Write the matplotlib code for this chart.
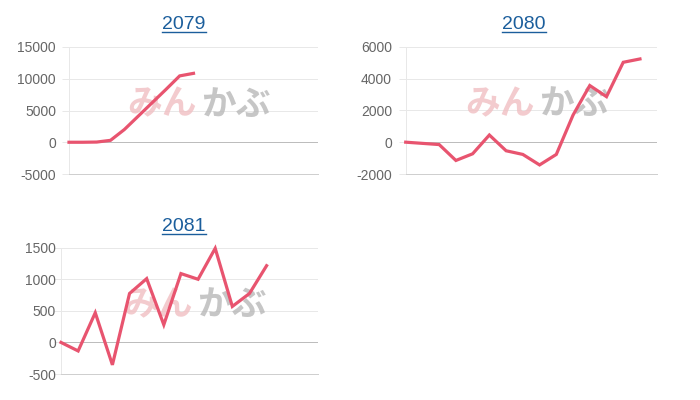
import matplotlib
matplotlib.use("Agg")
import matplotlib.pyplot as plt
from matplotlib.lines import Line2D

titles = ["2079", "2080", "2081"]
vals_2079 = [0, 0, 30, 300, 2000, 4100, 6200, 8300, 10450, 10850]
vals_2080 = [0, -75, -150, -1150, -730, 450, -540, -770, -1430, -770, 1700, 3560, 2860, 5020, 5230]
vals_2081 = [0, -135, 470, -355, 775, 1010, 280, 1090, 1000, 1490, 570, 775, 1215]
series = [vals_2079, vals_2080, vals_2081]
yticks = [[-5000, 0, 5000, 10000, 15000],
          [-2000, 0, 2000, 4000, 6000],
          [-500, 0, 500, 1000, 1500]]
nslots = [19, 16, 16]

W, H = 700, 400
fig = plt.figure(figsize=(7, 4), dpi=100)
plt.rcParams['font.family'] = ['Liberation Sans', 'DejaVu Sans']

# axes boxes in pixels: left, top, right, bottom
boxes = [(69, 47, 318, 174), (405.7, 46.7, 656.7, 174), (61, 247.7, 318, 374)]
title_pos = [(184, 24.5), (524, 24.5), (184, 226.5)]
label_right = [56, 392, 56]

line_color = '#e8546f'
grid_c = '#e8e8e8'
zero_c = '#bdbdbd'
px = 0.72

for i in range(3):
    l, t, r, b = boxes[i]
    ax = fig.add_axes([l / W, 1 - b / H, (r - l) / W, (b - t) / H])
    yt = yticks[i]
    ax.set_ylim(yt[0], yt[-1])
    ax.set_xlim(0, nslots[i] - 1)
    ax.set_yticks(yt)
    ax.set_yticklabels([str(v) for v in yt])
    ax.set_xticks([])
    for s in ['top', 'right']:
        ax.spines[s].set_visible(False)
    ax.spines['left'].set_color(grid_c)
    ax.spines['bottom'].set_color('#cfcfcf')
    ax.spines['left'].set_linewidth(1 * px)
    ax.spines['bottom'].set_linewidth(1 * px)
    ticklen = 7
    pad = (l - label_right[i]) - ticklen
    ax.tick_params(axis='y', length=ticklen * px, width=1 * px, color=grid_c,
                   pad=pad * px, labelsize=10, labelcolor='#666666')
    for v in yt[1:]:
        ax.axhline(v, color=zero_c if v == 0 else grid_c, lw=1 * px, zorder=1)
    for tk, v in zip(ax.yaxis.get_major_ticks(), yt):
        if v == 0:
            tk.tick1line.set_color(zero_c)
        if v == yt[0]:
            tk.tick1line.set_color('#cfcfcf')
    # watermark
    ax.text(0.514, 0.55, 'みん', transform=ax.transAxes, ha='right', va='center',
            fontsize=25, fontweight='bold', color='#f0bfc2', alpha=0.8,
            family=['Noto Sans CJK JP'], zorder=2)
    ax.text(0.53, 0.55, 'かぶ', transform=ax.transAxes, ha='left', va='center',
            fontsize=25, fontweight='bold', color='#b8b8b8', alpha=0.8,
            family=['Noto Sans CJK JP'], zorder=2)
    y = series[i]
    ax.plot(range(len(y)), y, color=line_color, lw=2.3, solid_joinstyle='miter',
            zorder=3, clip_on=False)

    tx, ty = title_pos[i]
    txt = fig.text(tx / W, 1 - ty / H, titles[i], ha='center', va='center',
                   fontsize=14, color='#1b5e9c')

fig.canvas.draw()
renderer = fig.canvas.get_renderer()
for txt in fig.texts[:]:
    bb = txt.get_window_extent(renderer)
    yline = bb.y0 + 1
    fig.add_artist(Line2D([bb.x0 / W, bb.x1 / W], [yline / H, yline / H],
                          color='#1b5e9c', lw=1.0, transform=fig.transFigure))

fig.savefig('out.png', dpi=100, facecolor='white')
